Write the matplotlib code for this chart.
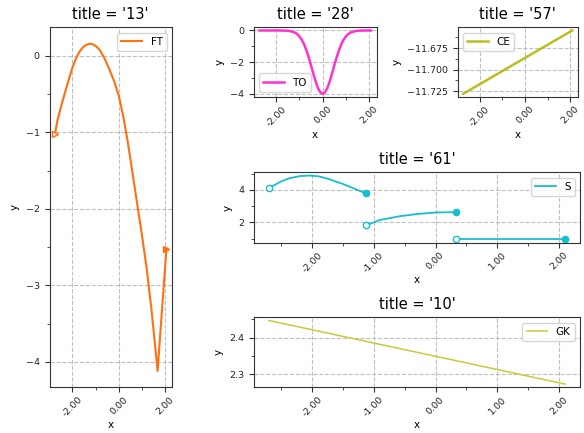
import matplotlib
matplotlib.use('Agg')
import matplotlib.pyplot as plt
from matplotlib.ticker import AutoMinorLocator, FormatStrFormatter

# panel '13' - FT
ft_x = [-2.74, -2.65, -2.5, -2.35, -2.2, -2.0, -1.85, -1.7, -1.55, -1.4, -1.25,
        -1.1, -0.95, -0.8, -0.6, -0.4, -0.2, 0.0, 0.2, 0.4, 0.6, 0.8, 1.0,
        1.2, 1.4, 1.55, 1.67, 2.05]
ft_y = [-1.02, -0.86, -0.68, -0.52, -0.36, -0.16, -0.04, 0.05, 0.11, 0.145, 0.16,
        0.15, 0.12, 0.07, -0.04, -0.18, -0.33, -0.52, -0.80, -1.15, -1.55, -1.95,
        -2.35, -2.78, -3.30, -3.75, -4.12, -2.52]

# panel '28' - TO
to_x = [-2.72, -2.0, -1.6, -1.4, -1.2, -1.1, -1.0, -0.9, -0.8, -0.7, -0.6, -0.5,
        -0.4, -0.3, -0.2, -0.1, 0.0, 0.1, 0.2, 0.3, 0.4, 0.5, 0.6, 0.7, 0.8,
        0.9, 1.0, 1.1, 1.2, 1.4, 1.6, 2.0, 2.08]
to_y = [0.0, 0.0, -0.01, -0.04, -0.13, -0.23, -0.38, -0.59, -0.88, -1.26, -1.71,
        -2.21, -2.74, -3.23, -3.64, -3.91, -4.0, -3.91, -3.64, -3.23, -2.74,
        -2.21, -1.71, -1.26, -0.88, -0.59, -0.38, -0.23, -0.13, -0.04, -0.01,
        0.0, 0.0]

# panel '57' - CE
ce_x = [-2.72, 2.08]
ce_y = [-11.728, -11.6546]

# panel '61' - S (three pieces)
s_x = [[-2.70, -2.52, -2.38, -2.2, -2.04, -1.9, -1.77, -1.5, -1.28, -1.13],
       [-1.13, -0.91, -0.58, -0.26, 0.01, 0.33],
       [0.33, 2.10]]
s_y = [[4.10, 4.48, 4.70, 4.84, 4.88, 4.83, 4.71, 4.36, 4.02, 3.78],
       [1.81, 2.14, 2.38, 2.53, 2.61, 2.63],
       [0.95, 0.95]]

# panel '10' - GK
gk_x = [-2.70, 2.10]
gk_y = [2.446, 2.274]

W, H = 584, 433


def box(l, t, r, b):
    return [l / W, 1 - b / H, (r - l) / W, (b - t) / H]


def style(ax, title):
    ax.set_title(title, fontsize=10.5)
    ax.set_xlabel('x', fontsize=7.5, labelpad=1)
    ax.set_ylabel('y', fontsize=7.5)
    ax.xaxis.set_major_formatter(FormatStrFormatter('%.2f'))
    ax.xaxis.set_minor_locator(AutoMinorLocator(2))
    ax.yaxis.set_minor_locator(AutoMinorLocator(2))
    ax.tick_params(axis='both', which='major', labelsize=6.8, colors='#333333',
                   labelcolor='#222222', length=3.5)
    ax.tick_params(axis='both', which='minor', colors='#333333', length=2)
    ax.tick_params(axis='x', labelrotation=45, pad=2)
    ax.grid(True, which='major', linestyle='--', color='#b0b0b0', alpha=0.8, linewidth=0.8)
    for s in ax.spines.values():
        s.set_color('#333333')


fig = plt.figure(figsize=(5.84, 4.33), dpi=100)

c_ft = '#ff7010'
ax13 = fig.add_axes(box(49.5, 27.3, 172, 387.3))
ax13.plot(ft_x, ft_y, color=c_ft, lw=1.5, label='FT')
ax13.plot(ft_x[0], ft_y[0], marker='>', ms=5, mfc='white', mec=c_ft, ls='none')
ax13.plot(ft_x[-1], ft_y[-1], marker='>', ms=5, color=c_ft, ls='none')
style(ax13, "title = '13'")
ax13.legend(loc='upper right', fontsize=7.5)

c_to = '#ff33cc'
ax28 = fig.add_axes(box(254, 27.3, 376.5, 97))
ax28.plot(to_x, to_y, color=c_to, lw=1.8, label='TO')
style(ax28, "title = '28'")
ax28.legend(loc='lower left', fontsize=7.5)

c_ce = '#bcbd22'
ax57 = fig.add_axes(box(457.7, 27.3, 577.7, 97))
ax57.plot(ce_x, ce_y, color=c_ce, lw=1.8, label='CE')
style(ax57, "title = '57'")
ax57.legend(loc='upper left', fontsize=7.5)

c_s = '#17becf'
ax61 = fig.add_axes(box(254, 172.3, 580, 242.7))
for i, (xs, ys) in enumerate(zip(s_x, s_y)):
    ax61.plot(xs, ys, color=c_s, lw=1.3, label='S' if i == 0 else None)
    ax61.plot(xs[0], ys[0], marker='o', ms=4.5, mfc='white', mec=c_s, ls='none')
    ax61.plot(xs[-1], ys[-1], marker='o', ms=4.5, color=c_s, ls='none')
style(ax61, "title = '61'")
ax61.legend(loc='upper right', fontsize=7.5)

c_gk = '#c9c93c'
ax10 = fig.add_axes(box(254, 317.3, 580, 387.3))
ax10.plot(gk_x, gk_y, color=c_gk, lw=1.1, label='GK')
style(ax10, "title = '10'")
ax10.legend(loc='upper right', fontsize=7.5)

fig.savefig('out.png', dpi=100)
